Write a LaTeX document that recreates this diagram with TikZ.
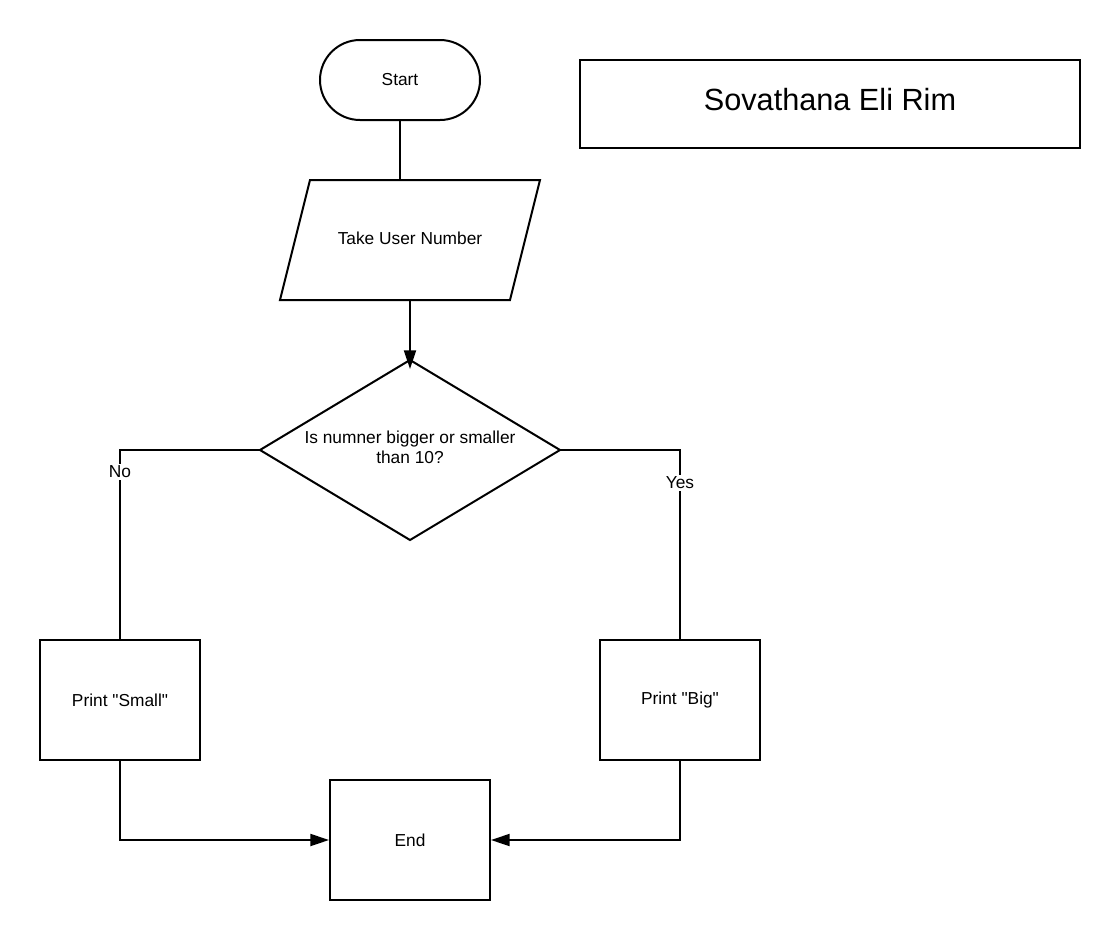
\documentclass[tikz,border=0pt]{standalone}
\usepackage{fontspec}
\setmainfont{Liberation Sans}
\usetikzlibrary{arrows.meta}
\begin{document}
\begin{tikzpicture}[x=0.75pt,y=-0.75pt, line width=1.5pt,
  txt/.style={font=\fontsize{13}{15}\selectfont, align=center},
  box/.style={draw, minimum width=120pt, minimum height=90pt, inner sep=0pt, txt},
  lbl/.style={txt, fill=white, inner sep=1.5pt},
  arr/.style={-{Triangle[length=14pt,width=9pt]}}]
\useasboundingbox (0,0) rectangle (1120,940);
% title
\node[draw, minimum width=375pt, minimum height=66pt, inner sep=0pt] (titlebox) at (830,104) {};
\node[font=\fontsize{23}{27}\selectfont, inner sep=0pt] (title) at (830,100) {Sovathana Eli Rim};
% start
\node[draw, rounded corners=30pt, minimum width=120pt, minimum height=60pt, inner sep=0pt, txt] (start) at (400,80) {Start};
% input parallelogram
\coordinate (inTop) at (400,180);
\coordinate (inBot) at (410,300);
\draw (310,180) -- (540,180) -- (510,300) -- (280,300) -- cycle;
\node[txt] (input) at (410,238) {Take User Number};
% decision diamond
\coordinate (decT) at (410,360);
\coordinate (decR) at (560,450);
\coordinate (decB) at (410,540);
\coordinate (decL) at (260,450);
\draw (decT) -- (decR) -- (decB) -- (decL) -- cycle;
\node[txt] (dec) at (410,447) {Is numner bigger or smaller\\than 10?};
% boxes
\node[box] (small) at (120,700) {Print \textquotedbl Small\textquotedbl};
\node[box] (big) at (680,700) {Print \textquotedbl Big\textquotedbl};
\node[box] (end) at (410,840) {End};
% connectors
\draw (start.south) -- (inTop);
\coordinate (decTip) at (410,369);
\draw[arr] (inBot) -- (decTip);
\draw (decL) -| (small.north);
\draw (decR) -| (big.north);
\node[lbl] (no) at (120,472) {No};
\node[lbl] (yes) at (680,483) {Yes};
\draw[arr] (small.south) |- (end.west);
\draw[arr] (big.south) |- (end.east);
\end{tikzpicture}
\end{document}
